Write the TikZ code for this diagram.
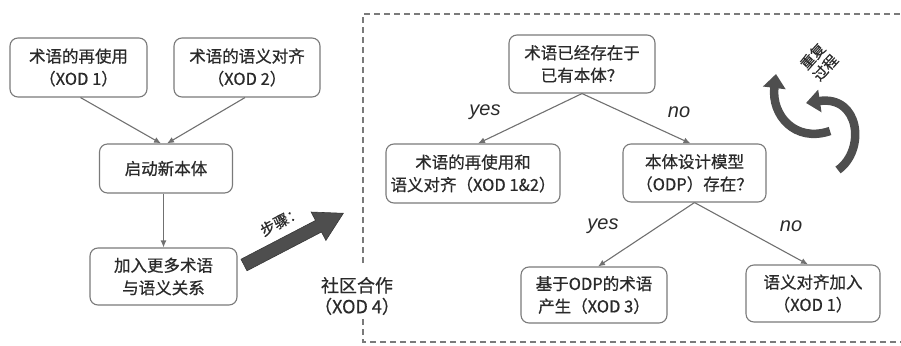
\documentclass[tikz,border=0pt]{standalone}
\usepackage{fontspec}
\setmainfont{Noto Sans CJK SC}[FakeBold=0.6]
\newfontfamily\latinit{Liberation Sans}
\usetikzlibrary{arrows.meta}
\definecolor{boxline}{HTML}{7A7A7A}
\definecolor{arrline}{HTML}{707070}
\definecolor{txt}{HTML}{2A2A2A}
\definecolor{bigarr}{HTML}{4E4E4E}
\tikzset{
  flowbox/.style={draw=boxline, line width=1.1pt, rounded corners=8pt, fill=white,
    text=txt, align=center, inner sep=0pt, font=\fontsize{16.5}{22.5}\selectfont},
  conn/.style={draw=arrline, line width=1.1pt, -{Latex[length=7pt,width=6pt]}},
  yn/.style={font=\latinit\itshape\fontsize{20}{22}\selectfont, text=txt},
  dashbox/.style={draw=boxline, line width=1.1pt, dash pattern=on 6pt off 4pt},
  bigarrow/.style={draw=bigarr!70!black, line width=0.6pt, fill=bigarr},
  cycarrow/.style={draw=bigarr, line width=8.5pt, -{Triangle[length=14pt,width=22pt]}},
}
\begin{document}
\begin{tikzpicture}[x=1pt,y=-1pt]
\useasboundingbox (0,0) rectangle (901,345);

% left part
\node[flowbox, minimum width=137pt, minimum height=59pt] (b1) at (78.5,67.5) {术语的再使用\\（XOD 1）};
\node[flowbox, minimum width=146pt, minimum height=59pt] (b2) at (247,67.5) {术语的语义对齐\\（XOD 2）};
\node[flowbox, minimum width=133pt, minimum height=49pt] (b3) at (166,168.5) {启动新本体};
\node[flowbox, minimum width=147pt, minimum height=57pt] (b4) at (163.5,276.5) {加入更多术语\\与语义关系};

\draw[conn] ([xshift=2pt]b1.south) -- ([xshift=-5pt]b3.north);
\draw[conn] ([xshift=-2pt]b2.south) -- ([xshift=1pt]b3.north);
\draw[conn] (b4.north |- b3.south) -- (b4.north);

% big arrow
\coordinate (ba1) at (244,265);
\coordinate (ba2) at (344,212);
\begin{scope}[shift={(ba1)}, rotate=27.5]
  \path[bigarrow] (0,-6.5) -- (84,-6.5) -- (84,-16) -- (112,0) -- (84,16) -- (84,6.5) -- (0,6.5) -- cycle;
\end{scope}
\node[rotate=28, text=txt, font=\fontsize{15}{17}\selectfont] (steps) at (281,221) {步骤：};

% community
\node[text=txt, align=center, font=\fontsize{18}{21}\selectfont] (comm) at (357,296) {社区合作\\（XOD 4）};

% dashed frame
\coordinate (f1) at (910,14);
\coordinate (f2) at (363,14);
\coordinate (f3) at (363,263);
\coordinate (f4) at (363,319);
\coordinate (f5) at (363,342);
\coordinate (f6) at (910,342);
\draw[dashbox] (f3) -- (f2) -- (f1);
\draw[dashbox] (f4) -- (f5) -- (f6);

% right part
\node[flowbox, minimum width=146pt, minimum height=58pt] (q1) at (582,64) {术语已经存在于\\已有本体？};
\node[flowbox, minimum width=174pt, minimum height=59pt] (y1) at (473,173.5) {术语的再使用和\\语义对齐（XOD 1\&2）};
\node[flowbox, minimum width=143pt, minimum height=58pt] (q2) at (694.5,173) {本体设计模型\\（ODP）存在？};
\node[flowbox, minimum width=146pt, minimum height=56pt] (odp) at (594,295) {基于ODP的术语\\产生（XOD 3）};
\node[flowbox, minimum width=134pt, minimum height=57pt] (sa) at (813,293.5) {语义对齐加入\\（XOD 1）};

\draw[conn] (q1.south) -- ([xshift=5pt]y1.north);
\draw[conn] (q1.south) -- ([xshift=-4pt]q2.north);
\draw[conn] (q2.south) -- ([xshift=4pt]odp.north);
\draw[conn] (q2.south) -- ([xshift=-5pt]sa.north);

\node[yn] (l1) at (485,112) {yes};
\node[yn] (l2) at (679,112) {no};
\node[yn] (l3) at (603,226) {yes};
\node[yn] (l4) at (791,226) {no};

% cycle arrows
\draw[cycarrow] (830,131) .. controls (795,143) and (771,115) .. (776,74);
\draw[cycarrow] (838,170) .. controls (866,150) and (860,95) .. (806,103);
\node[rotate=48, text=txt, align=center, font=\fontsize{14.5}{17}\selectfont] (rep) at (819,62) {重复\\过程};
\end{tikzpicture}
\end{document}
